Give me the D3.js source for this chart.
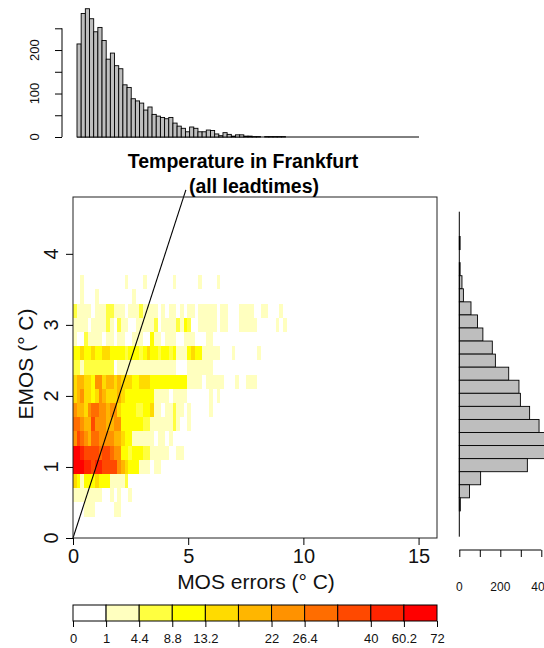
<!DOCTYPE html>
<html>
<head>
<meta charset="utf-8">
<script src="https://cdn.jsdelivr.net/npm/d3@7"></script>
<style>
  body { margin: 0; background: #fff; }
  svg { display: block; font-family: "Liberation Sans", Arial, sans-serif; }
</style>
</head>
<body>
<svg id="chart" width="544" height="648"></svg>
<script>
// ---- data ----
const mosTicks = [0, 5, 10, 15];
const emosTicks = [0, 1, 2, 3, 4];

// colour classes of the count legend
const levelBreaks = [0, 1, 4.4, 8.8, 13.2, 17.6, 22, 26.4, 30.8, 40, 60.2, 72];
const levelLabels = ["0", "1", "4.4", "8.8", "13.2", "", "22", "26.4", "", "40", "60.2", "72"];
const levelColors = ["#FFFFFF", "#FFFFBF", "#FFFF40", "#FFFF00", "#FFDB00", "#FFB600",
  "#FF9200", "#FF6D00", "#FF4900", "#FF2400", "#FF0000"];

// 2d histogram: one string per EMOS row, one char per MOS bin = count class (a = 10)
const mosBinWidth = 0.16;
const emosBinWidth = 0.2;
const emosRows = [3.6, 3.4, 3.2, 3.0, 2.8, 2.6, 2.4, 2.2, 2.0, 1.8, 1.6, 1.4, 1.2, 1.0, 0.8, 0.6, 0.4];
const cellClasses = [
  "0010000000 0000100001 0000000100 0000100001",
  "0010001000 0000001000",
  "2111101112 2111011121 1110101101 0110111110 1100011110 0110001",
  "1111011112 1021100111 1120111121 3200111110 1100011111 00000101",
  "1002111101 1011001110 0311011100 11100011",
  "3343343344 3333233323 4332332311 1343311111 0001000000 1",
  "2212222222 2011111111 1111111100 01111111",
  "4554436645 5454443344 4333333333 3111101111 1000100111",
  "4564434654 4454333333 3311110111 1000000101",
  "6554677665 6643333223 3411011211 01000001",
  "7765586665 5663333332 2111111210 01",
  "6876577666 6554331111 1101101",
  "aa98888788 7663323332 2111110011",
  "aaa9989988 8865433311 1011",
  "4313334333 11112",
  "1111111100 101001",
  "0001110000 011",
];

// marginal histogram of MOS errors (bins of 0.2)
const mosHistWidth = 0.2;
const mosHistCounts = [214, 284, 295, 272, 242, 252, 222, 179, 193, 164,
  157, 120, 114, 88, 83, 78, 62, 69, 52, 48,
  45, 42, 45, 32, 25, 20, 12, 23, 20, 12,
  12, 16, 15, 7, 3, 10, 6, 2, 5, 5,
  2, 2, 1, 1, 0, 1, 1, 1, 1, 1];
const topHistTicks = [0, 50, 100, 150, 200, 250];
const topHistTickLabels = ["0", "", "100", "", "200", ""];

// marginal histogram of EMOS (bins of 0.2, lower edges)
const emosHistLower = [4.2, 4.0, 3.8, 3.6, 3.4, 3.2, 3.0, 2.8, 2.6, 2.4,
  2.2, 2.0, 1.8, 1.6, 1.4, 1.2, 1.0, 0.8, 0.6, 0.4, 0.2];
const emosHistCounts = [4, 0, 4, 13, 20, 57, 89, 115, 161, 176,
  241, 291, 298, 343, 389, 430, 420, 332, 104, 50, 5];
const rightHistTicks = [0, 100, 200, 300, 400];
const rightHistTickLabels = ["0", "", "200", "", "400"];

const titleLines = ["Temperature in Frankfurt", "(all leadtimes)"];
const titleCenters = [243, 254];

// ---- layout ----
const svg = d3.select("#chart");
const main = { left: 73, right: 437, top: 197, bottom: 538 };
const histFill = "#BEBEBE";

const x = d3.scaleLinear().domain([0, 15.8]).range([main.left, main.right]);
const y = d3.scaleLinear().domain([0, 4.8]).range([main.bottom, main.top]);

const color = d3.scaleThreshold()
  .domain(levelBreaks.slice(1, -1))
  .range(levelColors);

function classCount(c) {
  const i = parseInt(c, 16);
  return i === 0 ? 0 : (levelBreaks[i] + levelBreaks[i + 1]) / 2;
}

// ---- heat map cells ----
const cells = [];
emosRows.forEach((e, r) => {
  cellClasses[r].replace(/ /g, "").split("").forEach((c, k) => {
    const n = classCount(c);
    if (n > 0) cells.push({ mos: k * mosBinWidth, emos: e, n });
  });
});

svg.append("g")
  .attr("shape-rendering", "crispEdges")
  .selectAll("rect")
  .data(cells)
  .join("rect")
  .attr("x", (d) => x(d.mos))
  .attr("width", (d) => x(d.mos + mosBinWidth) - x(d.mos))
  .attr("y", (d) => y(d.emos + emosBinWidth / 2))
  .attr("height", (d) => y(d.emos - emosBinWidth / 2) - y(d.emos + emosBinWidth / 2))
  .attr("fill", (d) => color(d.n));

// 1:1 line
svg.append("line")
  .attr("x1", x(0)).attr("y1", y(0))
  .attr("x2", x(4.9)).attr("y2", y(4.9))
  .attr("stroke", "#000").attr("stroke-width", 1.1);

// box
svg.append("rect")
  .attr("x", main.left).attr("y", main.top)
  .attr("width", main.right - main.left).attr("height", main.bottom - main.top)
  .attr("fill", "none").attr("stroke", "#222").attr("stroke-width", 1);

// x axis
const xAxisG = svg.append("g")
  .attr("transform", `translate(0,${main.bottom})`)
  .call(d3.axisBottom(x).tickValues(mosTicks).tickSize(7).tickSizeOuter(0).tickFormat(d3.format("d")));
xAxisG.select(".domain").remove();
xAxisG.selectAll("text").attr("font-size", 20).attr("fill", "#111").attr("font-family", null)
  .attr("y", 10).attr("dy", "0.76em");

// y axis (ticks by d3, labels parallel to the axis)
const yAxisG = svg.append("g")
  .attr("transform", `translate(${main.left},0)`)
  .call(d3.axisLeft(y).tickValues(emosTicks).tickSize(7).tickSizeOuter(0).tickFormat(""));
yAxisG.select(".domain").remove();

svg.append("g")
  .selectAll("text")
  .data(emosTicks)
  .join("text")
  .attr("transform", (d) => `translate(58,${y(d)}) rotate(-90)`)
  .attr("text-anchor", "middle")
  .attr("font-size", 20)
  .attr("fill", "#111")
  .text((d) => d);

svg.append("text")
  .attr("x", 256).attr("y", 589)
  .attr("text-anchor", "middle").attr("font-size", 21).attr("fill", "#111")
  .text("MOS errors (\u00B0 C)");

svg.append("text")
  .attr("transform", `translate(33,364) rotate(-90)`)
  .attr("text-anchor", "middle").attr("font-size", 21).attr("fill", "#111")
  .text("EMOS (\u00B0 C)");

// title
svg.append("g")
  .selectAll("text")
  .data(titleLines)
  .join("text")
  .attr("x", (d, i) => titleCenters[i])
  .attr("y", (d, i) => 168 + i * 25)
  .attr("text-anchor", "middle")
  .attr("font-size", 19.5)
  .attr("font-weight", "bold")
  .attr("fill", "#000")
  .text((d) => d);

// ---- top histogram ----
const xT = d3.scaleLinear().domain([0, 16.4]).range([77, 419]);
const yT = d3.scaleLinear().domain([0, 250]).range([137, 28.3]);

svg.append("line")
  .attr("x1", xT(0)).attr("x2", xT(16.4))
  .attr("y1", yT(0)).attr("y2", yT(0))
  .attr("stroke", "#000");

svg.append("g")
  .selectAll("rect")
  .data(mosHistCounts)
  .join("rect")
  .attr("x", (d, i) => xT(i * mosHistWidth))
  .attr("width", (d, i) => xT((i + 1) * mosHistWidth) - xT(i * mosHistWidth))
  .attr("y", (d) => yT(d))
  .attr("height", (d) => yT(0) - yT(d))
  .attr("fill", histFill)
  .attr("stroke", "#000")
  .attr("stroke-width", 0.9);

const topAxisG = svg.append("g")
  .attr("transform", "translate(62,0)")
  .call(d3.axisLeft(yT).tickValues(topHistTicks).tickSize(7).tickSizeOuter(0).tickFormat(""));
topAxisG.select(".domain")
  .attr("d", `M0,${yT(0)}V${yT(250)}`);

svg.append("g")
  .selectAll("text")
  .data(topHistTicks)
  .join("text")
  .attr("transform", (d) => `translate(39,${yT(d)}) rotate(-90)`)
  .attr("text-anchor", "middle")
  .attr("font-size", 13)
  .attr("fill", "#111")
  .text((d, i) => topHistTickLabels[i]);

// ---- right histogram ----
const xR = d3.scaleLinear().domain([0, 400]).range([459.3, 541.3]);
const yR = d3.scaleLinear().domain([-0.195, 4.78]).range([536.7, 211.7]);

svg.append("g")
  .selectAll("rect")
  .data(emosHistCounts)
  .join("rect")
  .attr("x", xR(0))
  .attr("y", (d, i) => yR(emosHistLower[i] + emosBinWidth))
  .attr("height", (d, i) => yR(emosHistLower[i]) - yR(emosHistLower[i] + emosBinWidth))
  .attr("width", (d) => xR(d) - xR(0))
  .attr("fill", histFill)
  .attr("stroke", "#000")
  .attr("stroke-width", 0.9);

svg.append("line")
  .attr("x1", xR(0)).attr("x2", xR(0))
  .attr("y1", yR(-0.195)).attr("y2", yR(4.78))
  .attr("stroke", "#000");

const rightAxisG = svg.append("g")
  .attr("transform", "translate(0,550)")
  .call(d3.axisBottom(xR).tickValues(rightHistTicks).tickSize(7).tickSizeOuter(0).tickFormat(""));
rightAxisG.select(".domain").attr("d", `M${xR(0)},0H${xR(400)}`);

svg.append("g")
  .selectAll("text")
  .data(rightHistTicks)
  .join("text")
  .attr("x", (d) => xR(d))
  .attr("y", 591)
  .attr("text-anchor", "middle")
  .attr("font-size", 12)
  .attr("fill", "#111")
  .text((d, i) => rightHistTickLabels[i]);

// ---- colour legend ----
const xL = d3.scaleLinear().domain([0, levelColors.length]).range([73, 437]);

svg.append("g")
  .selectAll("rect")
  .data(levelColors)
  .join("rect")
  .attr("x", (d, i) => xL(i))
  .attr("width", (d, i) => xL(i + 1) - xL(i))
  .attr("y", 605)
  .attr("height", 16)
  .attr("fill", (d) => d)
  .attr("stroke", "#000")
  .attr("stroke-width", 1);

const legendAxisG = svg.append("g")
  .attr("transform", "translate(0,621)")
  .call(d3.axisBottom(xL).tickValues(d3.range(levelBreaks.length)).tickSize(6).tickSizeOuter(0)
    .tickFormat((i) => levelLabels[i]));
legendAxisG.select(".domain").remove();
legendAxisG.selectAll("text").attr("font-size", 13).attr("fill", "#111").attr("font-family", null)
  .attr("y", 13);

svg.selectAll(".tick line").attr("stroke", "#000");
</script>
</body>
</html>
